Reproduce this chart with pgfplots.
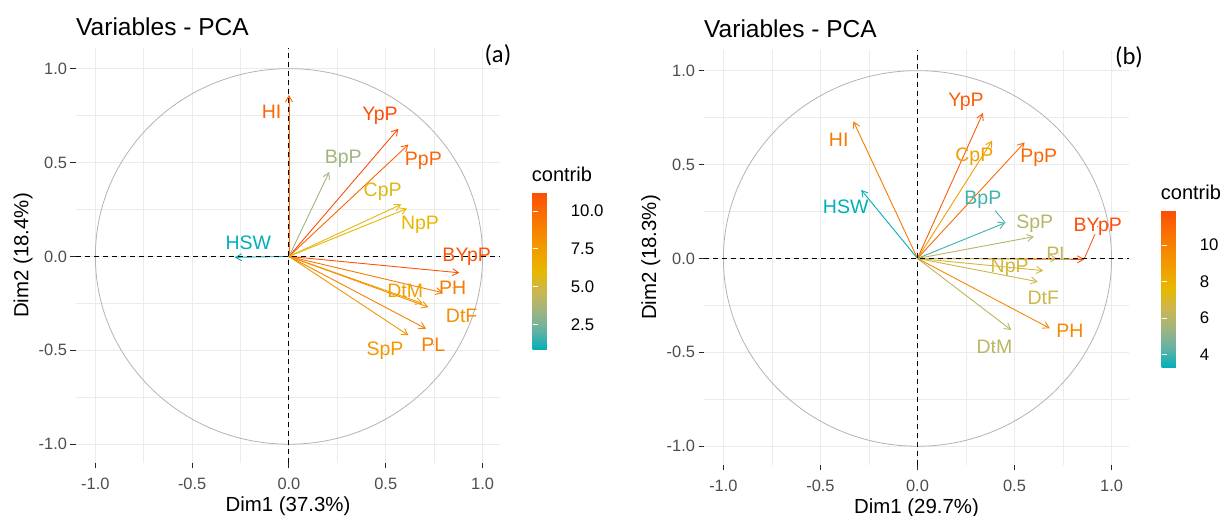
\documentclass[border=0pt]{standalone}
\usepackage{fontspec}
\setmainfont{Liberation Sans}
\newfontfamily\carlito{Carlito}
\usepackage{pgfplots}
\usepackage{pgfplotstable}
\pgfplotsset{compat=1.18}
\usetikzlibrary{arrows.meta}

\definecolor{gridc}{HTML}{EBEBEB}
\definecolor{tickc}{HTML}{4D4D4D}
\definecolor{circc}{HTML}{B3B3B3}
\definecolor{segred}{HTML}{FC4E07}
\definecolor{segteal}{RGB}{60,177,168}

% panel (a): arrow ends (u,v), contribution c, label position (lx,ly)
\pgfplotstableread{
lab  x0 y0 u      v      c     lx     ly
HI   0  0  0.00   0.86   10.2  -0.09   0.77
YpP  0  0  0.565  0.68   11.2   0.47   0.75
PpP  0  0  0.617  0.596  10.2   0.694  0.507
BpP  0  0  0.208  0.45    3.4   0.28   0.52
CpP  0  0  0.58   0.277   5.7   0.484  0.347
NpP  0  0  0.61   0.255   6.0   0.677  0.17
HSW  0  0 -0.28  -0.005   0.8  -0.21   0.073
BYpP 0  0  0.88  -0.087  11.0   0.918  0.0
PH   0  0  0.794 -0.193   9.2   0.846 -0.167
DtM  0  0  0.69  -0.25    7.4   0.60  -0.184
DtF  0  0  0.72  -0.27    8.2   0.892 -0.317
PL   0  0  0.708 -0.385   8.9   0.746 -0.468
SpP  0  0  0.617 -0.42    7.7   0.496 -0.504
}\pcaA

% panel (b)
\pgfplotstableread{
lab  x0 y0 u      v      c     lx     ly
HI   0  0 -0.33   0.73   10.3  -0.406  0.632
HSW  0  0 -0.29   0.365   3.3  -0.37   0.276
YpP  0  0  0.337  0.774  11.4   0.25   0.836
CpP  0  0  0.385  0.627   8.7   0.293  0.543
PpP  0  0  0.552  0.618  11.0   0.625  0.534
BpP  0  0  0.452  0.19    4.0   0.337  0.312
SpP  0  0  0.60   0.116   6.0   0.604  0.184
BYpP 0  0  0.86  -0.005  11.9   0.929  0.17
PL   0  0  0.72   0.0     6.3   0.725  0.024
NpP  0  0  0.648 -0.065   6.8   0.475 -0.052
DtF  0  0  0.62  -0.124   6.6   0.648 -0.212
DtM  0  0  0.483 -0.381   6.1   0.397 -0.47
PH   0  0  0.682 -0.372   9.7   0.785 -0.385
}\pcaB

\pgfplotsset{
  pcabase/.style={
    scale only axis, width=424pt, height=415pt,
    xmin=-1.1, xmax=1.09, ymin=-1.1, ymax=1.11,
    clip=false,
    axis line style={draw=none},
    xtick={-1,-0.5,0,0.5,1}, ytick={-1,-0.5,0,0.5,1},
    minor xtick={-0.75,-0.25,0.25,0.75},
    minor ytick={-0.75,-0.25,0.25,0.75},
    grid=both,
    major grid style={gridc, line width=1pt},
    minor grid style={gridc, line width=0.7pt},
    tick align=outside, tick pos=left,
    major tick length=5.5pt, minor tick length=0pt,
    major tick style={black!85, line width=1pt},
    /pgf/number format/assume math mode=true,
    /pgf/number format/fixed, /pgf/number format/fixed zerofill,
    /pgf/number format/precision=1,
    ticklabel style={font=\fontsize{16.4}{18}\selectfont, text=tickc},
    xticklabel style={yshift=-6pt},
    xlabel style={at={(axis description cs:0.5,-0.104)}, anchor=center,
      font=\fontsize{20.4}{22}\selectfont},
    ylabel style={at={(axis description cs:-0.125,0.5)}, anchor=center,
      font=\fontsize{20.4}{22}\selectfont},
    title style={at={(axis description cs:0,1)}, anchor=base west,
      yshift=6pt, inner sep=0pt, font=\fontsize{24.5}{26}\selectfont},
    title={Variables - PCA},
    colormap={ggc}{rgb255=(0,175,187) rgb255=(100,178,162) rgb255=(160,180,128)
      rgb255=(203,183,80) rgb255=(231,184,0) rgb255=(240,160,0)
      rgb255=(245,135,0) rgb255=(250,108,4) rgb255=(252,78,7)},
    colorbar,
  },
  cbbase/.style={
    at={(parent axis.east)}, anchor=west, xshift=24.2pt, yshift=-16pt,
    width=31.6pt, height=157pt,
    axis line style={draw=none},
    tick align=inside, ytick pos=both, yticklabel pos=right,
    major tick length=5.7pt,
    ytick style={white, line width=1.1pt},
    /pgf/number format/assume math mode=true,
    yticklabel style={font=\fontsize{16.8}{18}\selectfont, text=black, xshift=3pt},
    title=contrib,
    title style={at={(0,1)}, anchor=base west, yshift=5pt, xshift=-1pt,
      inner sep=0pt, font=\fontsize{20}{22}\selectfont},
  },
  arrowplot/.style={
    point meta=explicit,
    quiver={u=\thisrow{u}, v=\thisrow{v}, colored,
      every arrow/.append style={-{Straight Barb[angle=60:7pt]}, line width=0.9pt}},
  },
  % labels: text from the table row, colour from the colormap
  labelplot/.style={
    scatter, only marks, mark=*, mark size=0.01pt,
    scatter/use mapped color={draw=none, fill=none},
    point meta=explicit,
    visualization depends on={value \coordindex\as\idx},
    nodes near coords={%
      \pgfplotscolormapaccess[0:1000]{\pgfplotspointmetatransformed}{ggc}%
      \edef\tmpcol{\noexpand\definecolor{lc}{rgb}{\pgfmathresult}}\tmpcol
      \pgfplotstablegetelem{\idx}{lab}\of#1%
      \textcolor{lc}{\pgfplotsretval}},
    nodes near coords align=center,
    nodes near coords style={anchor=center, inner sep=0pt,
      font=\fontsize{19.5}{21}\selectfont},
  },
}

\begin{document}
\begin{tikzpicture}
\useasboundingbox (0,0) rectangle (1223pt,516pt);

% ---------- panel (a)
\begin{axis}[pcabase,
  at={(76pt,53pt)}, anchor=south west,
  xlabel={Dim1 (37.3\%)}, ylabel={Dim2 (18.4\%)},
  point meta min=0.8, point meta max=11.2,
  colorbar style={cbbase, ytick={2.5,5,7.5,10},
    yticklabel style={/pgf/number format/fixed, /pgf/number format/fixed zerofill,
      /pgf/number format/precision=1}},
]
\draw[circc, line width=0.8pt] (axis cs:0,0) ellipse [x radius=1, y radius=1];
\addplot[arrowplot] table[x=x0, y=y0, meta=c] {\pcaA};
\draw[black, line width=1pt, dash pattern=on 5pt off 4pt] (axis cs:-1.1,0) -- (axis cs:1.09,0);
\draw[black, line width=1pt, dash pattern=on 5pt off 4pt] (axis cs:0,-1.1) -- (axis cs:0,1.11);
\addplot[labelplot=\pcaA] table[x=lx, y=ly, meta=c] {\pcaA};
\node[font=\carlito\fontsize{24.6}{26}\selectfont] at (rel axis cs:0.995,0.983) {(a)};
\end{axis}

% ---------- panel (b)
\begin{axis}[pcabase,
  at={(704pt,51pt)}, anchor=south west, width=425pt,
  xlabel={Dim1 (29.7\%)}, ylabel={Dim2 (18.3\%)},
  point meta min=3.3, point meta max=11.9,
  colorbar style={cbbase, yshift=-15.5pt, ytick={4,6,8,10},
    yticklabel style={/pgf/number format/fixed, /pgf/number format/precision=0}},
]
\draw[circc, line width=0.8pt] (axis cs:0,0) ellipse [x radius=1, y radius=1];
\addplot[arrowplot] table[x=x0, y=y0, meta=c] {\pcaB};
\draw[segred, line width=0.8pt] (axis cs:0.86,0.0) -- (axis cs:0.915,0.13);
\draw[segteal, line width=0.8pt] (axis cs:0.452,0.19) -- (axis cs:0.40,0.255);
\draw[black, line width=1pt, dash pattern=on 5pt off 4pt] (axis cs:-1.1,0) -- (axis cs:1.09,0);
\draw[black, line width=1pt, dash pattern=on 5pt off 4pt] (axis cs:0,-1.1) -- (axis cs:0,1.11);
\addplot[labelplot=\pcaB] table[x=lx, y=ly, meta=c] {\pcaB};
\node[font=\carlito\fontsize{24.6}{26}\selectfont] at (rel axis cs:1.0,0.983) {(b)};
\end{axis}
\end{tikzpicture}
\end{document}
